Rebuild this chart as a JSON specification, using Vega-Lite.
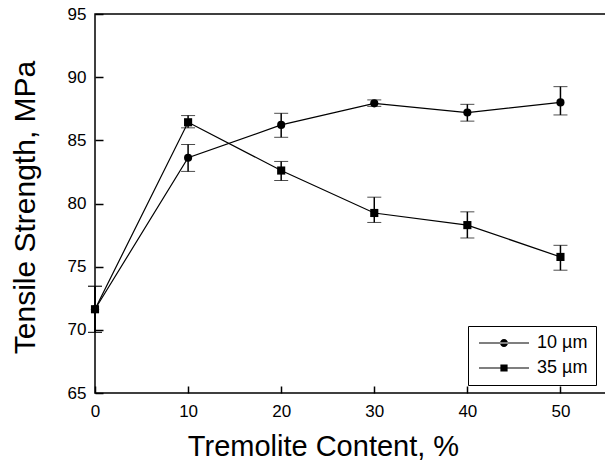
{
  "$schema": "https://vega.github.io/schema/vega-lite/v6.json",
  "width": 512,
  "height": 379,
  "autosize": {"type": "none"},
  "padding": {"left": 95, "top": 14, "right": 0, "bottom": 70},
  "background": "white",
  "config": {"view": {"stroke": "black", "strokeWidth": 1.5}, "font": "Liberation Sans"},
  "data": {"values": [
    {"x": 0, "series": "10 µm", "y": 71.63, "lo": 69.8, "hi": 73.45},
    {"x": 10, "series": "10 µm", "y": 83.62, "lo": 82.54, "hi": 84.67},
    {"x": 20, "series": "10 µm", "y": 86.22, "lo": 85.24, "hi": 87.14},
    {"x": 30, "series": "10 µm", "y": 87.93, "lo": 87.69, "hi": 88.2},
    {"x": 40, "series": "10 µm", "y": 87.2, "lo": 86.52, "hi": 87.85},
    {"x": 50, "series": "10 µm", "y": 88.0, "lo": 87.01, "hi": 89.25},
    {"x": 0, "series": "35 µm", "y": 71.63, "lo": 69.8, "hi": 73.45},
    {"x": 10, "series": "35 µm", "y": 86.43, "lo": 85.99, "hi": 86.96},
    {"x": 20, "series": "35 µm", "y": 82.61, "lo": 81.82, "hi": 83.33},
    {"x": 30, "series": "35 µm", "y": 79.25, "lo": 78.5, "hi": 80.5},
    {"x": 40, "series": "35 µm", "y": 78.29, "lo": 77.27, "hi": 79.34},
    {"x": 50, "series": "35 µm", "y": 75.77, "lo": 74.72, "hi": 76.69}
  ]},
  "encoding": {
    "x": {
      "field": "x", "type": "quantitative",
      "scale": {"domain": [0, 55], "nice": false, "zero": false},
      "axis": {
        "title": "Tremolite Content, %", "values": [0, 10, 20, 30, 40, 50], "grid": false, "zindex": 1,
        "domain": false, "offset": -7, "ticks": true, "tickColor": "black", "tickSize": 7, "tickWidth": 1.5,
        "labelFontSize": 17, "labelColor": "black", "labelPadding": 10, "labelFlush": false,
        "titleFontSize": 29, "titleFontWeight": "normal", "titleColor": "black",
        "titleX": 228, "titleY": 69, "titleBaseline": "alphabetic", "titleAlign": "center"
      }
    }
  },
  "resolve": {"scale": {"shape": "independent"}},
  "layer": [
    {
      "mark": {"type": "errorbar", "ticks": {"size": 14, "color": "black", "strokeWidth": 1.5}, "rule": {"color": "black", "strokeWidth": 1.5}},
      "encoding": {
        "y": {"field": "lo", "type": "quantitative", "scale": {"domain": [65, 95], "nice": false, "zero": false}, "title": "Tensile Strength, MPa"},
        "y2": {"field": "hi"},
        "detail": {"field": "series"}
      }
    },
    {
      "mark": {"type": "line", "color": "black", "strokeWidth": 1.2},
      "encoding": {
        "y": {
          "field": "y", "type": "quantitative",
          "scale": {"domain": [65, 95], "nice": false, "zero": false},
          "axis": {
            "title": "Tensile Strength, MPa", "values": [65, 70, 75, 80, 85, 90, 95], "grid": false, "zindex": 1,
            "domain": false, "offset": -8, "ticks": true, "tickColor": "black", "tickSize": 8, "tickWidth": 1.5,
            "labelFontSize": 17, "labelColor": "black", "labelPadding": 9,
            "titleFontSize": 30, "titleFontWeight": "normal", "titleColor": "black",
            "titleX": -78, "titleY": 193, "titleAngle": -90, "titleBaseline": "middle", "titleAlign": "center"
          }
        },
        "detail": {"field": "series"}
      }
    },
    {
      "mark": {"type": "point", "filled": true, "color": "black", "size": 66, "opacity": 1},
      "encoding": {
        "y": {"field": "y", "type": "quantitative", "scale": {"domain": [65, 95], "nice": false, "zero": false}},
        "shape": {
          "field": "series", "type": "nominal",
          "scale": {"domain": ["10 µm", "35 µm"], "range": ["circle", "square"]},
          "legend": null
        }
      }
    },
    {
      "mark": {"type": "point", "filled": true, "color": "black", "size": 64, "opacity": 0},
      "encoding": {
        "y": {"field": "y", "type": "quantitative", "scale": {"domain": [65, 95], "nice": false, "zero": false}},
        "shape": {
          "field": "series", "type": "nominal",
          "scale": {"domain": ["10 µm", "35 µm"], "range": [
            "M-6.25,-0.13L6.25,-0.13L6.25,0.13L-6.25,0.13Z M-1,0A1,1 0 1,0 1,0A1,1 0 1,0 -1,0Z",
            "M-6.25,-0.13L6.25,-0.13L6.25,0.13L-6.25,0.13Z M-0.9,-0.9L0.9,-0.9L0.9,0.9L-0.9,0.9Z"
          ]},
          "legend": {
            "title": null, "orient": "none", "legendX": 373, "legendY": 312,
            "strokeColor": "black", "fillColor": "white", "padding": 8,
            "labelFontSize": 18, "labelColor": "black", "symbolSize": 64,
            "symbolOffset": 19, "labelOffset": 24, "rowPadding": 7,
            "symbolStrokeColor": "black", "symbolStrokeWidth": 1, "symbolFillColor": "black", "symbolOpacity": 1,
            "encode": {
              "legend": {"update": {"strokeWidth": {"value": 1.5}}},
              "symbols": {
                "update": {
                  "fill": {"value": "black"},
                  "opacity": {"value": 1}
                }
              }
            }
          }
        }
      }
    }
  ]
}
